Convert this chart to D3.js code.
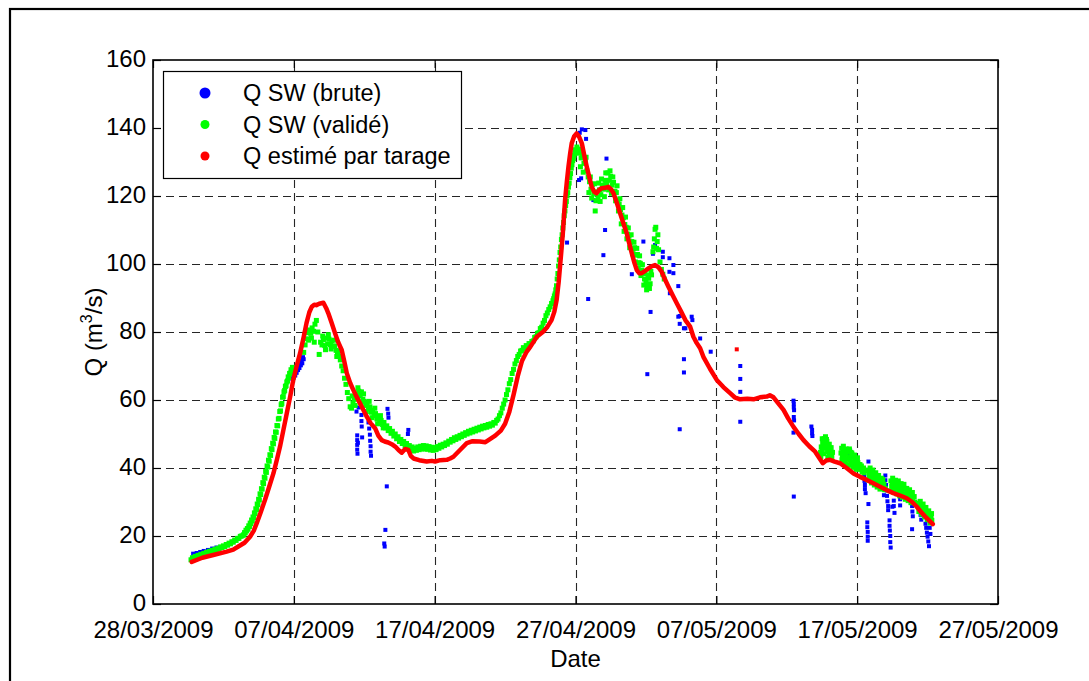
<!DOCTYPE html>
<html>
<head>
<meta charset="utf-8">
<script src="https://cdn.jsdelivr.net/npm/d3@7"></script>
<style>
  html, body { margin: 0; padding: 0; background: #fff; }
  svg { display: block; font-family: "Liberation Sans", Arial, Helvetica, sans-serif; }
</style>
</head>
<body>
<svg id="chart" width="1089" height="681"></svg>
<script>
// ---- Data: discharge (m3/s), time in days after 28/03/2009 00:00 ----

// Validated SW discharge, regular readings (start day, step, values)
const greenBaseStart = 2.7, greenBaseStep = 0.1;
const greenBase = [
  13.0,13.6,13.3,14.0,13.8,14.3,14.1,14.6,14.4,14.9,14.7,15.2,15.0,15.5,15.3,15.8,15.5,16.1,15.9,16.4,
  16.2,16.8,16.6,17.1,16.9,17.5,17.3,17.9,17.7,18.3,18.2,18.8,18.7,19.3,19.3,19.9,20.0,20.2
];
const greenRiseStart = 6.45, greenRiseStep = 0.05;
const greenRise = [
  20.4,21.0,20.9,21.7,21.5,22.2,22.0,23.0,22.8,23.8,23.6,24.7,24.4,25.6,25.4,26.8,26.6,28.0,27.8,29.4,
  29.2,30.8,30.6,32.4,32.2,33.9,33.8,35.7,35.4,37.3,37.0,39.0,38.7,40.6,40.3,42.3,42.0,43.9,43.7,45.7,
  45.4,47.3,47.1,49.0,48.7,50.6,50.5,52.5,52.4,54.4,54.6,56.6,56.8,58.6,59.0,60.8,61.0,62.4,62.8,64.0,
  64.2,65.3,65.6,66.8,66.6,67.8,67.9,68.9,68.7,69.6
];
const greenFirstFloodStart = 10.7, greenFirstFloodStep = 0.1;
const greenFirstFlood = [
  74.0,76.2,78.0,79.8,80.6,79.6,81.2,80.2,82.3,83.4,80.0,73.4,77.0,76.2,77.8,76.0,78.2,76.5,77.9,76.3,
  77.4,75.8,75.9,74.6,74.2,72.8,71.8,70.0,68.6,66.4,64.6,62.2,60.4,58.0,57.6,59.0,60.2,61.6,60.8,62.6,
  61.4,62.4,60.2,59.6,58.4,59.2,57.4,58.0,56.4,57.0,55.4,56.0,54.4,55.0,53.4,54.0,52.8,53.4,51.8,52.4,
  51.0,51.6,50.2,50.8,49.4,50.0,48.6,49.2,47.8,48.4,47.2,47.8,46.6,47.2,46.0,46.6,45.4,46.2,45.0,45.8,
  45.2,46.2,45.4,46.4,45.6,46.6,45.6,46.5,45.5,46.3,45.3,46.1,45.2,46.0,45.4,46.3,45.8,46.7,46.2,47.0,
  46.6,47.4,47.0,47.9,47.6,48.4,48.0,48.9,48.4,49.2,48.8,49.6,49.2,50.0,49.6,50.4,50.0,50.8,50.3,51.1,
  50.6,51.4,50.9,51.7,51.2,52.0,51.5,52.3,51.8,52.5,52.0,52.8,52.3,53.0,52.6,53.4,53.2,54.0
];
const greenSecondRiseStart = 24.5, greenSecondRiseStep = 0.1;
const greenSecondRise = [
  54.4,55.4,56.2,57.6,58.8,60.0,61.6,63.0,64.8,66.0,67.8,69.0,70.6,71.6,72.8,73.4,74.4,74.6,75.4,75.2,
  76.0,75.8,76.6,76.4,77.2,77.4,78.4,78.6,79.6,79.8,81.0,81.4,82.6,83.4,84.8,85.6,86.6,87.4,88.4,89.2
];
const greenPeakStart = 28.45, greenPeakStep = 0.05;
const greenPeak = [
  89.8,90.6,91.2,92.4,93.6,95.6,97.2,99.4,101.2,103.4,105.0,107.2,108.6,110.6,112.2,114.2,115.6,117.2,118.4,120.0,
  121.0,122.6,123.8,125.4,126.6,128.2,129.2,130.4,131.0,132.0,132.6,133.6,133.2,134.4,133.0
];
const greenSecondFallStart = 30.2, greenSecondFallStep = 0.1;
const greenSecondFall = [
  132.6,133.8,131.2,132.4,129.6,130.4,127.4,125.6,124.2,122.0,123.4,120.6,115.6,121.2,119.6,121.8,120.4,123.2,122.0,124.6,
  123.4,126.8,124.6,125.8,123.2,124.0,121.4,121.0,118.8,117.6,116.0,114.4,113.6,111.6,110.8,108.8,108.2,106.4,106.6,104.4,
  104.8,102.6,102.8,100.4,100.2,98.2,97.4,95.6,94.6,93.4,95.8,94.2,96.8,103.6,107.4,110.8,106.6,104.2,100.6,98.4,
  97.0,95.6
];

// Validated SW discharge, additional scattered readings [day, Q]
const greenScatter = [
  [11.05,77.6],[11.25,78.2],[11.45,77.0],[12.05,78.8],[12.25,74.8],[12.45,79.2],[12.65,75.0],[12.85,77.6],[13.05,72.8],[13.25,74.4],
  [14.15,61.2],[14.35,58.4],[14.55,63.6],[14.75,59.4],[14.95,61.8],[15.15,56.6],[15.35,59.6],[15.55,54.8],[15.75,57.6],[15.95,53.0],
  [16.15,55.4],[16.35,51.8],
  [30.35,128.6],[30.55,127.0],[30.75,131.4],[30.95,121.0],[31.05,125.6],[31.15,119.4],[31.35,123.6],[31.45,118.6],[31.65,123.8],
  [31.75,118.4],[31.85,125.0],[32.05,119.8],[32.15,126.8],[32.35,121.8],[32.45,127.4],[32.55,120.8],[32.65,125.6],[32.85,118.6],
  [32.95,123.0],[33.05,115.6],[33.15,119.2],[33.25,111.8],[33.35,116.6],[33.45,109.6],[33.55,113.8],[33.65,107.4],[33.75,110.6],
  [33.85,104.8],[33.95,108.6],[34.05,103.0],[34.15,106.4],[34.25,100.6],[34.35,104.6],[34.45,98.8],[34.55,102.4],[34.65,96.6],
  [34.75,99.8],[34.85,93.8],[34.95,97.2],[35.05,92.4],[35.15,96.6],[35.25,92.8],[35.35,97.8],[35.55,105.0],[35.65,110.2],
  [35.75,104.6],[35.85,108.6]
];

// Validated SW discharge, late May readings [day, Q]
const greenRecession = [
  [47.40,44.6],[47.45,46.2],[47.50,45.0],[47.55,47.4],[47.60,45.8],[47.65,48.6],[47.70,47.2],[47.75,49.2],[47.80,46.0],
  [47.85,47.8],[47.90,44.8],[47.95,46.6],[48.00,43.6],[48.05,45.4],[48.10,44.2],[48.15,46.0],[48.20,43.4],[48.25,44.6],
  [47.42,43.4],[47.52,48.6],[47.62,44.2],[47.72,46.4],[47.82,48.4],[47.92,43.2],[48.02,47.0],[48.12,42.8],
  [48.85,44.4],[48.90,45.8],[48.95,43.6],[49.00,45.2],[49.05,42.8],[49.10,44.6],[49.15,42.2],[49.20,44.0],[49.30,42.6],
  [49.35,44.8],[49.40,43.2],[49.45,45.6],[49.50,42.4],[49.55,44.6],[49.60,41.8],[49.65,43.8],[49.70,41.4],[49.75,43.2],
  [49.80,41.0],[49.85,42.6],[49.90,40.6],[49.95,42.2],[50.00,40.2],[50.05,41.6],[50.10,39.8],[50.20,41.0],[50.25,39.6],
  [48.92,42.4],[49.02,46.4],[49.12,41.6],[49.22,45.6],[49.32,41.0],[49.42,45.0],[49.52,40.8],[49.62,44.4],[49.72,40.2],
  [49.82,43.8],[49.92,39.6],[50.02,43.0],[50.12,41.0],[50.30,40.6],[50.35,38.8],[50.45,40.0],[50.50,38.6],[50.60,39.4],
  [50.80,39.2],[50.85,37.8],[50.90,38.8],[50.95,37.0],[51.00,38.4],[51.05,36.6],[51.10,38.0],[51.15,36.2],[51.20,37.6],
  [51.25,35.8],[51.30,37.2],[51.35,35.4],[51.40,36.8],[51.50,36.0],[51.55,34.8],[51.60,36.4],[51.70,35.0],[51.75,36.0],
  [51.80,34.4],[51.90,35.2],[52.00,34.0],
  [50.82,36.4],[50.92,40.0],[51.02,35.6],[51.12,39.4],[51.22,35.0],[51.32,38.6],[51.42,34.4],[51.52,37.8],[51.62,33.8],
  [51.72,37.0],[51.82,36.6],[51.95,33.6],
  [52.40,36.2],[52.45,34.6],[52.50,35.8],[52.55,33.8],[52.60,35.2],[52.70,34.0],[52.75,36.0],[52.80,34.6],[52.90,35.6],
  [52.95,33.6],[53.00,35.0],[53.10,33.2],[53.15,34.6],[53.20,32.8],[53.30,34.2],[53.35,32.4],[53.40,33.8],[53.50,32.0],
  [53.55,33.4],[53.60,31.6],[53.70,32.8],[53.80,31.0],[53.85,32.2],[53.95,30.8],[54.05,31.6],
  [52.42,33.2],[52.52,37.0],[52.62,32.8],[52.72,36.4],[52.82,32.4],[52.92,36.2],[53.02,31.8],[53.12,35.4],[53.22,31.4],
  [53.32,35.2],[53.42,30.8],[53.52,34.0],[53.62,30.4],[53.72,33.6],[53.82,29.8],[53.92,32.8],[54.10,30.0],
  [54.35,29.6],[54.40,28.4],[54.50,29.0],[54.55,27.6],[54.65,28.4],[54.70,26.8],[54.80,27.6],[54.90,26.0],[54.95,27.0],
  [55.05,25.4],[55.10,26.4],[55.20,24.8],[55.25,25.8],[55.30,24.6],
  [54.38,27.2],[54.48,30.2],[54.58,26.4],[54.68,29.4],[54.78,25.6],[54.88,28.4],[54.98,24.8],[55.08,27.4],[55.18,23.8],[55.28,26.6]
];

// Raw SW discharge readings not covered by validated values [day, Q]
const blueRaw = [
  [2.85,14.8],[3.10,15.0],[3.35,15.3],[3.60,15.6],[3.90,15.9],[4.20,16.3],[4.50,16.6],
  [9.90,66.2],[9.95,67.4],[10.00,66.6],[10.05,68.0],[10.10,67.2],[10.15,68.8],[10.20,68.0],[10.25,69.6],[10.30,68.8],
  [10.35,70.2],[10.40,69.4],[10.45,71.0],[10.50,70.2],[10.55,71.6],[10.60,70.8],[10.65,72.6],[10.70,72.0],
  [14.45,56.6],[14.50,49.6],[14.50,48.2],[14.50,46.8],[14.50,45.4],[14.52,44.2],[14.55,47.4],[14.60,57.8],[14.70,62.4],
  [14.72,61.2],[14.80,55.6],[14.80,53.8],[14.82,52.2],[14.85,49.0],[15.30,53.4],[15.35,51.6],[15.40,49.8],[15.42,48.0],
  [15.45,46.4],[15.45,44.8],[15.48,43.6],[16.65,57.4],[16.70,56.0],[16.72,54.8],[16.60,34.6],[16.50,21.8],[16.42,17.8],
  [16.45,16.9],[18.13,51.2],[18.10,50.0],
  [29.40,106.3],[30.25,124.7],[30.40,125.2],[30.30,138.6],[30.45,139.6],[30.70,139.4],[30.75,136.8],[30.90,89.7],
  [31.27,118.8],[31.98,102.6],[32.10,110.0],[32.20,131.0],[34.00,97.0],[34.82,106.6],[35.33,85.9],[35.50,103.0],
  [35.65,105.6],[36.20,103.6],[36.20,102.0],[36.67,101.7],[36.67,97.7],[36.95,99.7],[36.95,97.3],[36.70,91.4],
  [37.30,93.5],[37.30,84.5],[37.40,82.4],[37.40,84.7],[37.70,81.1],[37.80,81.1],[38.25,84.5],[38.30,83.5],[38.85,78.1],
  [39.60,74.2],[37.70,72.0],[37.70,68.1],[35.10,67.6],[37.40,51.4],[41.70,70.0],[41.70,66.2],[41.70,62.4],[41.70,53.6],
  [45.48,59.8],[45.50,58.8],[45.50,57.8],[45.52,57.0],[45.50,55.0],[45.52,54.0],[45.48,50.4],[45.50,31.6],
  [46.75,52.2],[46.80,51.2],[46.80,50.2],[46.82,49.4],[48.10,44.8],[48.15,45.8],[49.50,45.2],[49.50,44.0],[49.55,43.2],
  [50.50,37.4],[50.52,36.2],[50.55,35.0],[50.55,33.8],[50.60,32.6],[50.80,41.9],[50.80,29.4],[50.72,24.0],[50.72,22.6],
  [50.75,21.2],[50.75,19.8],[50.75,18.6],
  [51.90,32.0],[52.00,37.8],[52.00,36.4],[52.05,35.0],[52.10,33.4],[52.12,31.8],[52.15,30.2],[52.20,28.8],[52.20,27.6],
  [52.30,24.6],[52.30,23.0],[52.32,21.6],[52.35,20.0],[52.35,18.2],[52.38,16.6],[52.50,28.6],[52.60,30.4],[52.60,28.8],
  [52.65,26.8],[53.00,35.4],[53.00,34.0],[53.02,32.4],[53.05,30.8],[53.05,29.0],
  [53.90,30.4],[53.90,28.8],[53.92,27.2],[53.95,25.8],[53.90,22.0],[54.50,27.4],[54.50,26.2],[54.55,24.8],[54.70,28.2],
  [54.85,23.6],[54.90,22.4],[54.95,21.0],[55.00,19.8],[55.05,18.4],[55.10,17.0],[55.15,22.4],[55.20,20.6]
];

// Discharge estimated from the rating curve [day, Q]
const redRating = [
  [2.75,12.4],[3.5,13.6],[4.28,14.4],[5.23,15.4],[5.7,16.0],[6.06,16.9],[6.5,18.0],[6.89,19.8],[7.15,21.5],[7.36,23.7],
  [7.65,27.0],[7.95,30.6],[8.25,34.5],[8.55,38.4],[8.8,42.5],[9.02,46.3],[9.25,51.0],[9.5,56.1],[9.75,61.2],[9.96,65.9],
  [10.2,70.0],[10.44,73.7],[10.7,78.5],[10.9,82.6],[11.1,85.8],[11.27,87.4],[11.45,88.0],[11.6,87.9],[11.8,88.3],[12.1,88.6],
  [12.3,87.0],[12.45,85.5],[12.7,82.5],[12.93,79.6],[13.15,77.0],[13.4,74.7],[13.6,71.0],[13.76,67.9],[14.0,65.0],[14.23,62.9],
  [14.45,61.0],[14.7,59.0],[14.95,57.0],[15.18,55.1],[15.45,53.2],[15.77,51.7],[16.0,49.5],[16.24,48.2],[16.45,47.8],[16.7,47.5],
  [16.95,47.0],[17.2,46.3],[17.45,45.2],[17.66,44.5],[17.9,45.6],[18.13,45.3],[18.3,43.6],[18.5,42.8],[18.9,42.3],[19.43,41.9],
  [19.8,42.1],[20.03,41.9],[20.4,42.3],[20.86,42.4],[21.1,42.8],[21.33,43.3],[21.8,45.3],[22.28,47.3],[22.7,47.9],[23.2,47.8],
  [23.6,47.6],[23.9,48.4],[24.3,49.5],[24.7,51.0],[25.0,53.0],[25.3,56.5],[25.6,61.5],[25.9,67.0],[26.2,71.5],[26.5,74.0],
  [26.8,75.7],[27.25,78.6],[27.7,80.1],[28.0,81.5],[28.3,83.5],[28.5,86.0],[28.66,89.4],[28.8,94.5],[28.9,99.2],[29.0,104.0],
  [29.1,109.0],[29.18,114.0],[29.26,118.8],[29.38,124.0],[29.5,128.6],[29.62,132.5],[29.73,135.5],[29.9,137.5],[30.08,138.4],[30.25,137.5],
  [30.45,135.5],[30.62,132.0],[30.8,128.6],[30.98,125.5],[31.15,122.7],[31.32,121.3],[31.5,120.8],[31.68,121.8],[31.86,122.3],[32.1,122.4],
  [32.33,122.7],[32.52,122.0],[32.7,120.8],[32.95,117.8],[33.17,114.9],[33.4,112.0],[33.64,109.0],[33.82,106.0],[34.0,103.1],[34.18,100.4],
  [34.35,98.2],[34.52,97.3],[34.7,97.3],[34.95,98.0],[35.18,98.7],[35.4,99.3],[35.65,99.7],[35.9,99.0],[36.12,97.7],[36.35,95.5],
  [36.6,93.3],[36.9,90.8],[37.2,88.4],[37.5,86.0],[37.8,83.5],[38.14,81.6],[38.37,78.6],[38.6,76.8],[38.85,75.2],[39.08,72.7],
  [39.55,69.2],[40.03,65.9],[40.5,63.8],[40.98,62.0],[41.3,60.8],[41.69,60.2],[42.2,60.4],[42.64,60.2],[43.1,60.8],[43.58,61.0],
  [43.8,61.4],[44.06,60.8],[44.4,59.0],[44.77,57.1],[45.1,54.6],[45.48,52.1],[45.85,50.0],[46.19,48.2],[46.6,46.4],[47.02,44.8],
  [47.3,43.0],[47.56,41.4],[47.8,42.2],[48.08,42.4],[48.4,41.9],[48.79,41.4],[49.25,40.0],[49.74,38.4],[50.2,37.4],[50.68,36.5],
  [51.15,35.5],[51.63,34.5],[52.1,33.5],[52.57,32.6],[53.05,31.9],[53.52,31.1],[53.9,30.0],[54.23,28.6],[54.55,27.0],[54.83,25.7],
  [55.1,24.6],[55.37,23.5]
];
// Isolated rating-curve value
const redIsolated = [[41.45,74.9]];

const xTickLabels = ["28/03/2009","07/04/2009","17/04/2009","27/04/2009","07/05/2009","17/05/2009","27/05/2009"];
const yTickValues = [0,20,40,60,80,100,120,140,160];
const legendLabels = ["Q SW (brute)","Q SW (validé)","Q estimé par tarage"];
const seriesColors = ["#0000ff","#00ff00","#ff0000"];

// ---- Layout ----
const plot = { left: 153, top: 60, right: 998, bottom: 604 };
const DAY_MS = 864e5;
const t0 = Date.UTC(2009, 2, 28);
const toDate = d => new Date(t0 + d * DAY_MS);
const parseTick = d3.utcParse("%d/%m/%Y");
const tickDates = xTickLabels.map(parseTick);

const x = d3.scaleUtc().domain([tickDates[0], tickDates[tickDates.length - 1]]).range([plot.left, plot.right]);
const y = d3.scaleLinear().domain([0, 160]).range([plot.bottom, plot.top]);

const svg = d3.select("#chart");

// Figure frame
svg.append("rect")
  .attr("x", 10).attr("y", 9).attr("width", 1200).attr("height", 800)
  .attr("fill", "none").attr("stroke", "#000").attr("stroke-width", 2.2);

// Dashed grid
const grid = svg.append("g").attr("stroke", "#262626").attr("stroke-width", 1.1)
  .attr("stroke-dasharray", "8,5").attr("fill", "none");
grid.selectAll("line.gx").data(tickDates.slice(1, -1)).join("line")
  .attr("x1", d => Math.round(x(d)) + 0.5).attr("x2", d => Math.round(x(d)) + 0.5)
  .attr("y1", plot.bottom).attr("y2", plot.top);
grid.selectAll("line.gy").data(yTickValues.slice(1, -1)).join("line")
  .attr("y1", d => Math.round(y(d)) + 0.5).attr("y2", d => Math.round(y(d)) + 0.5)
  .attr("x1", plot.left).attr("x2", plot.right);

// Clip to the axes area
svg.append("clipPath").attr("id", "plotClip").append("rect")
  .attr("x", plot.left).attr("y", plot.top)
  .attr("width", plot.right - plot.left).attr("height", plot.bottom - plot.top);
const dataLayer = svg.append("g").attr("clip-path", "url(#plotClip)");

// Raw readings
dataLayer.append("g").attr("fill", seriesColors[0])
  .selectAll("rect").data(blueRaw).join("rect")
  .attr("x", d => x(toDate(d[0])) - 2).attr("y", d => y(d[1]) - 2)
  .attr("width", 4).attr("height", 4);

// Validated readings
const regular = (start, step, vals) => vals.map((v, i) => [start + i * step, v]);
const greenAll = [].concat(
  regular(greenBaseStart, greenBaseStep, greenBase),
  regular(greenRiseStart, greenRiseStep, greenRise),
  regular(greenFirstFloodStart, greenFirstFloodStep, greenFirstFlood),
  regular(greenSecondRiseStart, greenSecondRiseStep, greenSecondRise),
  regular(greenPeakStart, greenPeakStep, greenPeak),
  regular(greenSecondFallStart, greenSecondFallStep, greenSecondFall),
  greenScatter,
  greenRecession
);
dataLayer.append("g").attr("fill", seriesColors[1])
  .selectAll("rect").data(greenAll).join("rect")
  .attr("x", d => x(toDate(d[0])) - 2.5).attr("y", d => y(d[1]) - 2.5)
  .attr("width", 5).attr("height", 5);

// Rating-curve discharge
const line = d3.line().x(d => x(toDate(d[0]))).y(d => y(d[1]));
dataLayer.append("path").datum(redRating)
  .attr("d", line).attr("fill", "none").attr("stroke", seriesColors[2])
  .attr("stroke-width", 4.5).attr("stroke-linejoin", "round").attr("stroke-linecap", "round");
dataLayer.append("g").attr("fill", seriesColors[2])
  .selectAll("rect").data(redIsolated).join("rect")
  .attr("x", d => x(toDate(d[0])) - 2).attr("y", d => y(d[1]) - 2)
  .attr("width", 4).attr("height", 4);

// Axes
const fontSize = 24;
const xAxisBottom = d3.axisBottom(x).tickValues(tickDates).tickFormat(d3.utcFormat("%d/%m/%Y"))
  .tickSizeInner(-8).tickSizeOuter(0).tickPadding(17);
const gxb = svg.append("g").attr("transform", `translate(0,${plot.bottom})`).call(xAxisBottom);
const xAxisTop = d3.axisTop(x).tickValues(tickDates).tickFormat("").tickSizeInner(-8).tickSizeOuter(0);
const gxt = svg.append("g").attr("transform", `translate(0,${plot.top})`).call(xAxisTop);
const yAxisLeft = d3.axisLeft(y).tickValues(yTickValues).tickFormat(d3.format("d"))
  .tickSizeInner(-8).tickSizeOuter(0).tickPadding(7);
const gyl = svg.append("g").attr("transform", `translate(${plot.left},0)`).call(yAxisLeft);
const yAxisRight = d3.axisRight(y).tickValues(yTickValues).tickFormat("").tickSizeInner(-8).tickSizeOuter(0);
const gyr = svg.append("g").attr("transform", `translate(${plot.right},0)`).call(yAxisRight);

[gxb, gxt, gyl, gyr].forEach(g => {
  g.select(".domain").remove();
  g.selectAll(".tick line").attr("stroke", "#000").attr("stroke-width", 1.2);
  g.selectAll("text").attr("font-size", fontSize).attr("fill", "#000")
    .attr("font-family", '"Liberation Sans", Arial, sans-serif');
});
gyl.selectAll("text").attr("dy", "0.28em");

// Axes box
svg.append("rect")
  .attr("x", plot.left).attr("y", plot.top)
  .attr("width", plot.right - plot.left).attr("height", plot.bottom - plot.top)
  .attr("fill", "none").attr("stroke", "#000").attr("stroke-width", 1.6);

// Axis titles
svg.append("text").attr("x", (plot.left + plot.right) / 2).attr("y", 667)
  .attr("text-anchor", "middle").attr("font-size", fontSize).text("Date");
const yTitle = svg.append("text")
  .attr("transform", `translate(102,${(plot.top + plot.bottom) / 2}) rotate(-90)`)
  .attr("text-anchor", "middle").attr("font-size", fontSize);
yTitle.append("tspan").text("Q (m");
yTitle.append("tspan").attr("dy", -10).attr("font-size", 16).text("3");
yTitle.append("tspan").attr("dy", 10).text("/s)");

// Legend
const legend = svg.append("g");
legend.append("rect").attr("x", 163.5).attr("y", 71.5).attr("width", 298).attr("height", 107)
  .attr("fill", "#fff").attr("stroke", "#000").attr("stroke-width", 1.2);
const legendRows = legendLabels.map((label, i) => ({ label, color: seriesColors[i], r: i === 0 ? 5.5 : 4.5 }));
const rows = legend.selectAll("g.row").data(legendRows).join("g")
  .attr("transform", (d, i) => `translate(0,${93 + i * 31.5})`);
rows.append("circle").attr("cx", 205).attr("cy", 0).attr("r", d => d.r).attr("fill", d => d.color);
rows.append("text").attr("x", 243).attr("y", 0).attr("dy", "0.36em")
  .attr("font-size", 23.5).text(d => d.label);
</script>
</body>
</html>
